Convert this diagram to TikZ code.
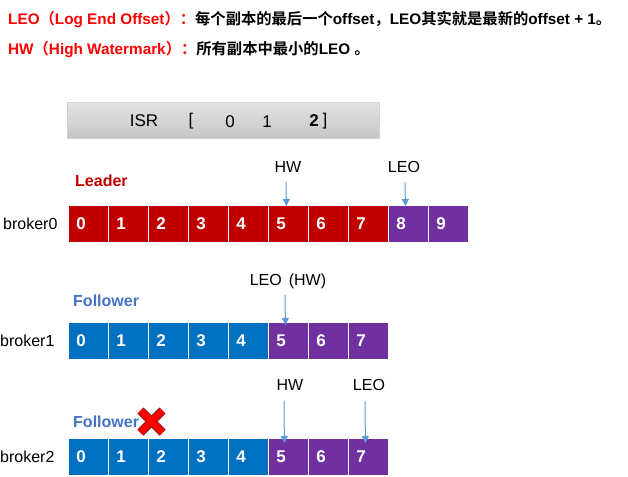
\documentclass[tikz,border=0pt]{standalone}
\usepackage{fontspec}
\setmainfont{Liberation Sans}
\newfontfamily\cjk{Noto Sans CJK SC}[BoldFont={Noto Sans CJK SC Bold}]
\usetikzlibrary{arrows.meta}
\definecolor{leadred}{HTML}{C00000}
\definecolor{brightred}{HTML}{FF0000}
\definecolor{purp}{HTML}{7030A0}
\definecolor{cellblue}{HTML}{0070C0}
\definecolor{follow}{HTML}{4472C4}
\definecolor{ptrcol}{HTML}{5B9BD5}
\definecolor{xdark}{HTML}{8B1A1A}
\tikzset{
  cell/.style={draw=white, line width=0.8pt, minimum width=40pt, minimum height=37pt,
    inner xsep=8pt, text width=24pt, align=left, anchor=north west,
    text=white, font=\fontsize{17}{17}\selectfont\bfseries},
  rcell/.style={cell, fill=leadred},
  pcell/.style={cell, fill=purp},
  bcell/.style={cell, fill=cellblue},
  blabel/.style={anchor=west, inner sep=0pt, font=\fontsize{16}{16}\selectfont},
  ptrlabel/.style={inner sep=0pt, font=\fontsize{16}{16}\selectfont},
  role/.style={anchor=west, inner sep=0pt, font=\fontsize{16}{16}\selectfont\bfseries},
  ptr/.style={draw=ptrcol, line width=1pt, -{Triangle[length=7pt,width=7pt]}},
  isrtxt/.style={inner sep=0pt, font=\fontsize{17}{17}\selectfont},
  headline/.style={anchor=west, inner sep=0pt, font=\fontsize{15.3}{15.3}\selectfont\bfseries}
}
\begin{document}
\begin{tikzpicture}[x=1pt,y=-1pt]
\useasboundingbox (0,0) rectangle (628,476);
% header
\node[headline] (h1) at (8,20) {\textcolor{brightred}{LEO{\cjk（}Log End Offset{\cjk）：}}{\cjk 每个副本的最后一个}offset{\cjk ，}LEO{\cjk 其实就是最新的}offset + 1{\cjk 。}};
\node[headline] (h2) at (8,50) {\textcolor{brightred}{HW{\cjk（}High Watermark{\cjk）：}}{\cjk 所有副本中最小的}LEO {\cjk 。}};
% ISR box
\node[draw=gray!35, top color=gray!22, bottom color=gray!45, minimum width=312pt, minimum height=36pt, anchor=north west, inner sep=0pt] (isr) at (67,102) {};
\node[isrtxt] (isrA) at (144,121) {ISR};
\node[isrtxt] (isrB) at (191,121) {[};
\node[isrtxt] (isrC) at (230,122) {0};
\node[isrtxt] (isrD) at (267,122) {1};
\node[isrtxt, font=\fontsize{17}{17}\selectfont\bfseries] (isrE) at (314,121) {2};
\node[isrtxt] (isrF) at (325,121) {]};
% broker0
\node[blabel] (b0) at (3,223.5) {broker0};
\node[role, text=leadred] (lead) at (75,181) {Leader};
\foreach \i in {0,...,7} \node[rcell] (a\i) at (68+40*\i,205) {\i};
\foreach \i in {8,9} \node[pcell] (a\i) at (68+40*\i,205) {\i};
\node[ptrlabel] (hw0) at (288,167) {HW};
\node[ptrlabel] (leo0) at (404,167) {LEO};
\draw[ptr] ([xshift=-2pt,yshift=-9pt]hw0.south) -- ([xshift=-2pt,yshift=-1pt]a5.north);
\draw[ptr] ([xshift=1pt,yshift=-9pt]leo0.south) -- ([xshift=-3pt,yshift=-1pt]a8.north);
% broker1
\node[blabel] (b1) at (0,341) {broker1};
\node[role, text=follow] (f1) at (73,301) {Follower};
\foreach \i in {0,...,4} \node[bcell] (c\i) at (68+40*\i,322) {\i};
\foreach \i in {5,6,7} \node[pcell] (c\i) at (68+40*\i,322) {\i};
\node[ptrlabel] (leo1) at (288,281) {LEO\hspace{7pt}(HW)};
\draw[ptr] ([xshift=-3pt,yshift=-6pt]leo1.south) -- ([xshift=-3pt,yshift=-3pt]c5.north);
% broker2
\node[blabel] (b2) at (0,457) {broker2};
\node[role, text=follow] (f2) at (73,422) {Follower};
\foreach \i in {0,...,4} \node[bcell] (d\i) at (68+40*\i,438) {\i};
\foreach \i in {5,6,7} \node[pcell] (d\i) at (68+40*\i,438) {\i};
\node[ptrlabel] (hw2) at (290,385) {HW};
\node[ptrlabel] (leo2) at (369,385) {LEO};
\draw[ptr] ([xshift=-6pt,yshift=-10pt]hw2.south) -- ([xshift=-4pt,yshift=-5pt]d5.north);
\draw[ptr] ([xshift=-4pt,yshift=-10pt]leo2.south) -- ([xshift=-3pt,yshift=-5pt]d7.north);
% cross
\coordinate (xc) at (151.5,421.5);
\draw[xdark, line width=8.5pt] ([shift={(-11,-11)}]xc) -- ([shift={(11,11)}]xc) ([shift={(-11,11)}]xc) -- ([shift={(11,-11)}]xc);
\draw[red, line width=6.5pt] ([shift={(-11,-11)}]xc) -- ([shift={(11,11)}]xc) ([shift={(-11,11)}]xc) -- ([shift={(11,-11)}]xc);
\end{tikzpicture}
\end{document}
